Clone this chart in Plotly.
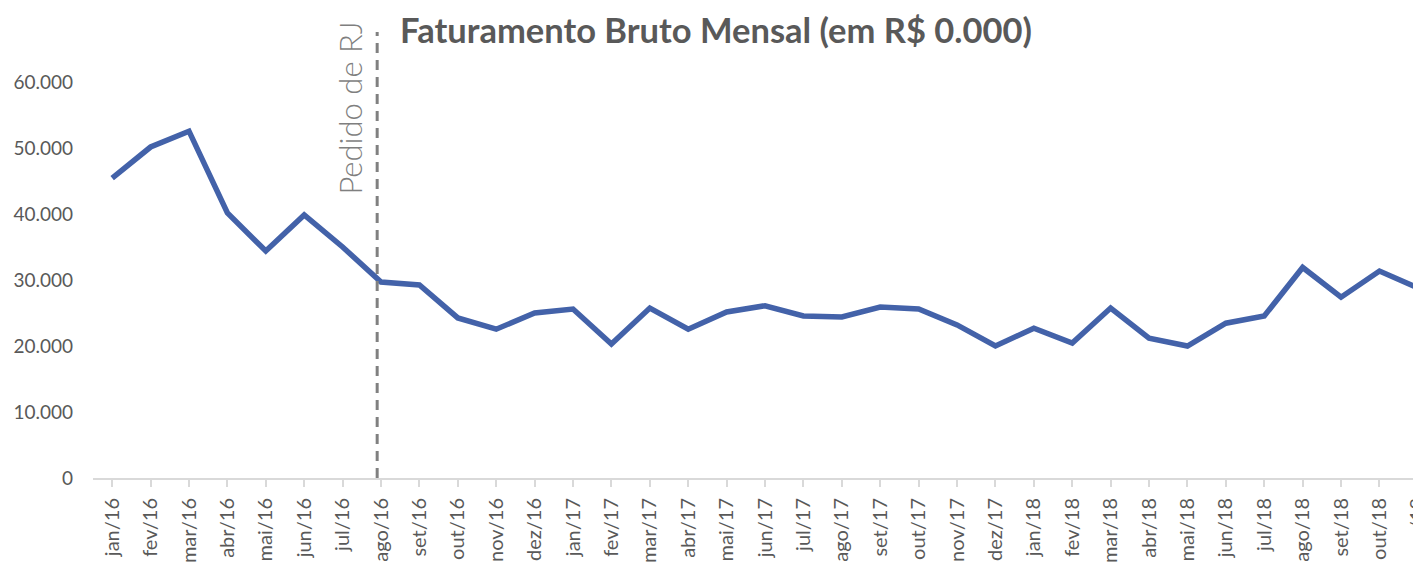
import plotly.graph_objects as go

# meses (jan/16 .. nov/18)
meses = ['jan/16', 'fev/16', 'mar/16', 'abr/16', 'mai/16', 'jun/16', 'jul/16', 'ago/16',
         'set/16', 'out/16', 'nov/16', 'dez/16', 'jan/17', 'fev/17', 'mar/17', 'abr/17',
         'mai/17', 'jun/17', 'jul/17', 'ago/17', 'set/17', 'out/17', 'nov/17', 'dez/17',
         'jan/18', 'fev/18', 'mar/18', 'abr/18', 'mai/18', 'jun/18', 'jul/18', 'ago/18',
         'set/18', 'out/18', 'nov/18']

# faturamento bruto mensal (R$ mil)
faturamento = [45450, 50150, 52550, 40150, 34400, 39850, 35000, 29700,
               29250, 24250, 22550, 25000, 25600, 20300, 25750, 22550,
               25150, 26100, 24550, 24400, 25900, 25600, 23200, 20000,
               22700, 20450, 25750, 21200, 20000, 23450, 24550, 31900,
               27400, 31350, 28800]

y_ticks = [0, 10000, 20000, 30000, 40000, 50000, 60000]

# posição do marco "Pedido de RJ" (entre jul/16 e ago/16)
marco_rj = 6.9

cor_linha = '#4362A9'
cor_texto = '#595959'
fonte = 'Lato'

fig = go.Figure()

fig.add_trace(go.Scatter(
    x=list(range(len(meses))),
    y=faturamento,
    mode='lines',
    line=dict(color=cor_linha, width=5.5),
    showlegend=False,
    hoverinfo='skip'
))

# linha tracejada do pedido de RJ
fig.add_shape(
    type='line', xref='x', yref='paper',
    x0=marco_rj, x1=marco_rj, y0=0, y1=1.126,
    line=dict(color='#808080', width=3, dash='10px,7px')
)

fig.add_annotation(
    text='Pedido de RJ', textangle=-90,
    xref='x', yref='paper', x=6.2, y=1.157,
    xanchor='center', yanchor='top', showarrow=False,
    font=dict(family=fonte, size=31, color='#7F7F7F', weight=300)
)

fig.add_annotation(
    text='<b>Faturamento Bruto Mensal (em R$ 0.000)</b>',
    xref='paper', yref='paper', x=0.2285, y=1.132,
    xanchor='left', yanchor='middle', showarrow=False,
    font=dict(family=fonte, size=34.5, color=cor_texto)
)

fig.update_xaxes(
    range=[-0.5, 34.29],
    tickmode='array',
    tickvals=list(range(len(meses))),
    ticktext=meses,
    tickangle=-90,
    tickson='boundaries',
    ticks='outside', ticklen=7, tickcolor='#D9D9D9', tickwidth=2,
    showline=True, linecolor='#D9D9D9', linewidth=2,
    showgrid=False, zeroline=False,
    ticklabelstandoff=3,
    tickfont=dict(family=fonte, size=20, color=cor_texto)
)

fig.update_yaxes(
    range=[0, 60000],
    tickmode='array', tickvals=y_ticks,
    tickformat=',.0f',
    showgrid=False, zeroline=False, showline=False,
    ticks='', ticklabelstandoff=19,
    tickfont=dict(family=fonte, size=19, color=cor_texto)
)

fig.update_layout(
    width=1421, height=573,
    margin=dict(l=85, r=0, t=74, b=103),
    separators=',.',
    plot_bgcolor='white',
    paper_bgcolor='white'
)

fig.write_html("out.html")
